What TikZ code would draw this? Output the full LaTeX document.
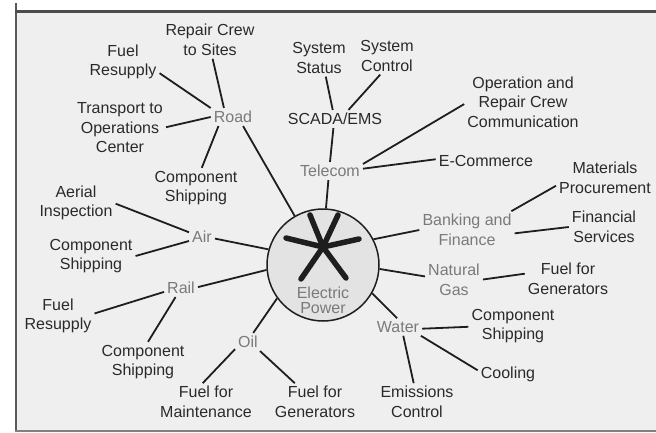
\documentclass[tikz,border=0pt]{standalone}
\usepackage{fontspec}
\setmainfont{Liberation Sans}
\definecolor{bg}{HTML}{EFEFEF}
\definecolor{txt}{HTML}{2A2A2A}
\definecolor{hubc}{HTML}{7A7A7A}
\definecolor{linec}{HTML}{1E1E1E}
\definecolor{cfill}{HTML}{E3E3E3}
\begin{document}
\begin{tikzpicture}[x=1pt,y=-1pt,
  leaf/.style={text=txt, align=center, inner sep=3pt, font=\fontsize{16}{19.5}\selectfont},
  hub/.style={leaf, text=hubc},
  conn/.style={draw=linec, line width=1.8pt},
  spoke/.style={draw=linec, line width=5.5pt, line cap=round},
]
\useasboundingbox (0,0) rectangle (656,432);
% frame
\fill[bg] (16,11) rectangle (656,431);
\draw[draw=black!65, line width=2pt] (16,3) -- (16,432);
\draw[draw=black!70, line width=3pt] (15,11) -- (656,11);
\draw[draw=black!50, line width=2pt] (15,431) -- (656,431);

% centre
\node[circle, draw=linec, line width=1.5pt, fill=cfill, minimum size=112pt, inner sep=0pt] (ep) at (323,265) {};
\node[hub, font=\fontsize{16}{15}\selectfont] (eptext) at (323,300) {Electric\\Power};
\coordinate (ac) at (323,247);
\draw[spoke] (ac) -- (286,238);
\draw[spoke] (ac) -- (359,239);
\draw[spoke] (ac) -- (310,215);
\draw[spoke] (ac) -- (338,215);
\draw[spoke] (ac) -- (301,279);
\draw[spoke] (ac) -- (346,278);

% hubs
\node[hub] (road) at (233,117) {Road};
\node[hub] (telecom) at (330,171) {Telecom};
\node[leaf] (scada) at (335,119) {SCADA/EMS};
\node[hub] (air) at (202,237) {Air};
\node[hub] (rail) at (181,288) {Rail};
\node[hub] (oil) at (248,342) {Oil};
\node[hub] (bank) at (467,230) {Banking and\\Finance};
\node[hub] (gas) at (454,280) {Natural\\Gas};
\node[hub] (water) at (398,327) {Water};

% leaves
\node[leaf] (rcs) at (210,40) {Repair Crew\\to Sites};
\node[leaf] (fr1) at (123,62) {Fuel\\Resupply};
\node[leaf] (toc) at (120,128) {Transport to\\Operations\\Center};
\node[leaf] (cs1) at (196,188) {Component\\Shipping};
\node[leaf] (ai) at (76,203) {Aerial\\Inspection};
\node[leaf] (cs2) at (91,256) {Component\\Shipping};
\node[leaf] (fr2) at (58,316) {Fuel\\Resupply};
\node[leaf] (cs3) at (143,362) {Component\\Shipping};
\node[leaf] (ffm) at (206,402) {Fuel for\\Maintenance};
\node[leaf] (ffg1) at (315,402) {Fuel for\\Generators};
\node[leaf] (ss) at (319,58) {System\\Status};
\node[leaf] (sc) at (387,56) {System\\Control};
\node[leaf] (orc) at (523,102) {Operation and\\Repair Crew\\Communication};
\node[leaf] (ec) at (486,161) {E-Commerce};
\node[leaf] (mp) at (605,178) {Materials\\Procurement};
\node[leaf] (fs) at (604,227) {Financial\\Services};
\node[leaf] (ffg2) at (568,279) {Fuel for\\Generators};
\node[leaf] (cs4) at (513,326) {Component\\Shipping};
\node[leaf] (cool) at (508,374) {Cooling};
\node[leaf] (emc) at (417,402) {Emissions\\Control};

% connectors
\draw[conn] (rcs.-82) -- (road.135);
\draw[conn] (fr1.-17.6) -- (road.158.9);
\draw[conn] (toc.1.2) -- (road.180);
\draw[conn] (cs1.74) -- (road.212);
\draw[conn] (road.-42.7) -- (ep.120);
\draw[conn] (ss.-70.7) -- (scada.104);
\draw[conn] (sc.250) -- (scada.34.4);
\draw[conn] (scada.260.5) -- (telecom.90);
\draw[conn] (telecom.260) -- (ep.87);
\draw[conn] (telecom.12.5) -- (orc.182);
\draw[conn] (telecom.4.8) -- (ec.178);
\draw[conn] (bank.23.7) -- (mp.189);
\draw[conn] (ep.27) -- (bank.180);
\draw[conn] (bank.-4.6) -- (fs.180);
\draw[conn] (ep.-4.2) -- (gas.173.7);
\draw[conn] (gas.1.6) -- (ffg2.173);
\draw[conn] (ep.-30.6) -- (water.96);
\draw[conn] (water.-4.2) -- (cs4.181);
\draw[conn] (water.-21.8) -- (cool.173);
\draw[conn] (water.-59) -- (emc.100);
\draw[conn] (ai.-1.5) -- (air.160);
\draw[conn] (air.-7.6) -- (ep.164);
\draw[conn] (cs2.0) -- (air.197.5);
\draw[conn] (ep.185) -- (rail.3);
\draw[conn] (rail.193.4) -- (fr2.4.5);
\draw[conn] (rail.239) -- (cs3.76);
\draw[conn] (ep.216.7) -- (oil.60);
\draw[conn] (oil.209) -- (ffm.100);
\draw[conn] (oil.-37) -- (ffg1.137.5);
\end{tikzpicture}
\end{document}
